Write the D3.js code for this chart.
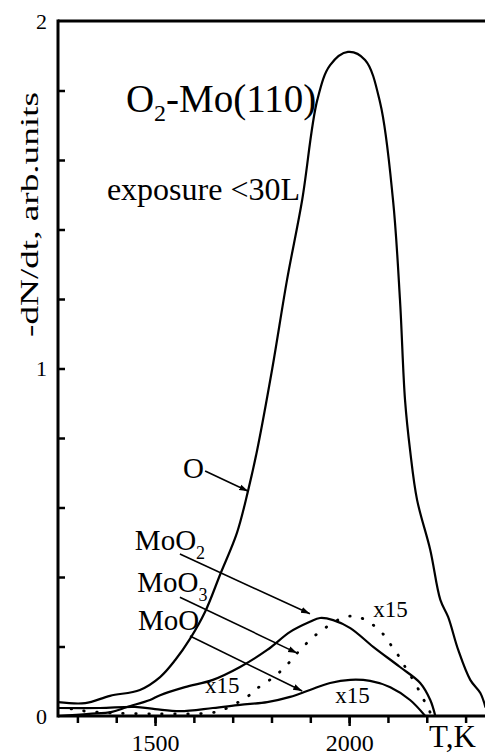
<!DOCTYPE html>
<html>
<head>
<meta charset="utf-8">
<script src="https://cdn.jsdelivr.net/npm/d3@7"></script>
<style>
  html, body { margin: 0; padding: 0; background: #fff; }
  svg { display: block; }
</style>
</head>
<body>
<svg id="chart" width="485" height="756"></svg>
<script>
// Thermal desorption spectra, O2 on Mo(110): temperature (K) vs rate (arb. units)

// O desorption
const oTemp = [1250, 1320, 1384, 1461, 1513, 1552, 1590, 1629, 1668, 1711, 1740, 1763, 1802, 1840, 1879, 1918, 1951, 1997, 2041, 2080, 2113, 2131, 2144, 2157, 2175, 2209, 2235, 2255, 2281, 2312, 2338, 2351];
const oRate = [0.040, 0.037, 0.058, 0.075, 0.112, 0.161, 0.222, 0.300, 0.408, 0.527, 0.650, 0.765, 1.000, 1.255, 1.485, 1.773, 1.873, 1.911, 1.888, 1.764, 1.485, 1.197, 0.909, 0.765, 0.622, 0.478, 0.334, 0.285, 0.190, 0.104, 0.066, 0.026];

// MoO2 desorption (x15)
const moo2Temp = [1250, 1330, 1389, 1428, 1487, 1513, 1577, 1649, 1719, 1789, 1848, 1899, 1925, 1959, 2003, 2062, 2131, 2183, 2209, 2222];
const moo2Rate = [0.000, 0.006, 0.012, 0.026, 0.046, 0.060, 0.083, 0.104, 0.141, 0.190, 0.242, 0.271, 0.282, 0.276, 0.253, 0.199, 0.141, 0.095, 0.046, 0.000];

// MoO3 desorption (x15)
const moo3Temp = [1250, 1289, 1320, 1384, 1513, 1642, 1673, 1737, 1765, 1802, 1835, 1866, 1894, 1930, 1990, 2023, 2054, 2085, 2111, 2131, 2149, 2170, 2188, 2204, 2212];
const moo3Rate = [0.023, 0.020, 0.014, 0.009, 0.006, 0.009, 0.017, 0.055, 0.081, 0.109, 0.141, 0.181, 0.213, 0.247, 0.285, 0.285, 0.268, 0.239, 0.199, 0.167, 0.132, 0.095, 0.055, 0.023, 0.000];

// MoO desorption (x15)
const mooTemp = [1250, 1358, 1448, 1500, 1564, 1649, 1719, 1789, 1848, 1899, 1951, 2003, 2054, 2106, 2157, 2196];
const mooRate = [0.023, 0.023, 0.026, 0.020, 0.014, 0.023, 0.032, 0.040, 0.055, 0.075, 0.095, 0.104, 0.101, 0.083, 0.046, 0.000];

// Axis ticks
const xMinorTicks = [1300, 1400, 1500, 1600, 1700, 1800, 1900, 2000, 2100, 2200, 2300];
const xLabelTicks = [1500, 2000];
const yMinorTicks = [0.2, 0.4, 0.6, 0.8, 1.0, 1.2, 1.4, 1.6, 1.8];
const yLabelTicks = [0, 1, 2];

// Species labels and their arrows (label anchor, arrow tail, arrow head) in data units
const speciesLabels = [
  { name: "O",   sub: "",  at: [1572, 0.685], from: [1629, 0.705], to: [1740, 0.647] },
  { name: "MoO", sub: "2", at: [1448, 0.478], from: [1564, 0.466], to: [1899, 0.294] },
  { name: "MoO", sub: "3", at: [1454, 0.357], from: [1564, 0.342], to: [1866, 0.181] },
  { name: "MoO", sub: "",  at: [1456, 0.247], from: [1590, 0.230], to: [1879, 0.072] }
];
// Scale-factor notes
const scaleNotes = [[2062, 0.285], [1629, 0.066], [1964, 0.037]];

const SERIF = "'Liberation Serif', 'Times New Roman', Times, serif";

const svg = d3.select("#chart");
const W = 485, H = 756;
const margin = { left: 58, top: 21, bottom: 40 };

const x = d3.scaleLinear().domain([1250, 2350]).range([margin.left, W]);
const y = d3.scaleLinear().domain([0, 2]).range([H - margin.bottom, margin.top]);

const defs = svg.append("defs");
defs.append("clipPath").attr("id", "plot")
  .append("rect")
  .attr("x", x(1250)).attr("y", 0)
  .attr("width", W - x(1250)).attr("height", y(0));

defs.append("marker")
  .attr("id", "arrow")
  .attr("markerUnits", "userSpaceOnUse")
  .attr("markerWidth", 10).attr("markerHeight", 8)
  .attr("refX", 9).attr("refY", 4)
  .attr("orient", "auto")
  .append("path")
  .attr("d", "M0,1 L9,4 L0,7 Z")
  .attr("fill", "#000");

// Curves
const line = d3.line()
  .x(d => x(d[0])).y(d => y(d[1]))
  .curve(d3.curveCatmullRom.alpha(0.5));

const curves = svg.append("g").attr("clip-path", "url(#plot)");
const series = [
  { t: oTemp,    v: oRate,    dash: null },
  { t: moo2Temp, v: moo2Rate, dash: null },
  { t: mooTemp,  v: mooRate,  dash: null },
  { t: moo3Temp, v: moo3Rate, dash: "0.5,12.5" }
];
series.forEach(s => {
  curves.append("path")
    .datum(d3.zip(s.t, s.v))
    .attr("d", line)
    .attr("fill", "none")
    .attr("stroke", "#000")
    .attr("stroke-width", s.dash ? 2.8 : 2.2)
    .attr("stroke-linecap", "round")
    .attr("stroke-dasharray", s.dash);
});

// X axis: minor ticks and labelled major ticks
const xAxisG = svg.append("g").attr("transform", `translate(0,${y(0)})`)
  .call(d3.axisBottom(x).tickValues(xMinorTicks).tickSize(7).tickFormat(""));
xAxisG.selectAll(".tick line").attr("stroke-width", 2.5);
const xMajor = svg.append("g").attr("transform", `translate(0,${y(0)})`)
  .call(d3.axisBottom(x).tickValues(xLabelTicks).tickSize(10).tickPadding(8).tickFormat(d3.format("d")));
xMajor.attr("font-family", SERIF);
xMajor.selectAll(".tick line").attr("stroke-width", 2.5);
xMajor.selectAll(".tick text")
  .style("font-family", SERIF).style("font-size", "24px");

// Y axis: inward minor ticks, labels on the left
const yAxisG = svg.append("g").attr("transform", `translate(${x(1250)},0)`)
  .call(d3.axisRight(y).tickValues(yMinorTicks).tickSize(7).tickFormat(""));
yAxisG.selectAll(".tick line").attr("stroke-width", 2.5);
const yLab = svg.append("g").attr("transform", `translate(${x(1250)},0)`)
  .call(d3.axisLeft(y).tickValues(yLabelTicks).tickSize(0).tickPadding(11).tickFormat(d3.format("d")));
yLab.attr("font-family", SERIF);
yLab.selectAll(".tick text")
  .style("font-family", SERIF).style("font-size", "22px");
svg.selectAll(".domain").remove();

// Frame lines: left axis, bottom axis, top border
svg.append("line")
  .attr("x1", x(1250)).attr("x2", x(1250))
  .attr("y1", y(2) - 1.5).attr("y2", y(0) + 1.5)
  .attr("stroke", "#000").attr("stroke-width", 3);
svg.append("line")
  .attr("x1", x(1250)).attr("x2", W)
  .attr("y1", y(0)).attr("y2", y(0))
  .attr("stroke", "#000").attr("stroke-width", 3);
svg.append("line")
  .attr("x1", x(1250)).attr("x2", W)
  .attr("y1", y(2)).attr("y2", y(2))
  .attr("stroke", "#000").attr("stroke-width", 3);

// Shared helper for serif text
function label(sel, px) {
  return sel.append("text")
    .style("font-family", SERIF)
    .style("font-size", px + "px")
    .attr("fill", "#000");
}

// Axis titles
label(svg, 25)
  .attr("transform", `translate(38,${(92 + 337) / 2}) rotate(-90)`)
  .attr("text-anchor", "middle")
  .attr("textLength", 245)
  .attr("lengthAdjust", "spacingAndGlyphs")
  .text("-dN/dt, arb.units");

label(svg, 31)
  .attr("x", 429).attr("y", 747)
  .text("T,K");

// Title and exposure note
const title = label(svg, 39)
  .attr("x", x(1425)).attr("y", y(1.738));
title.append("tspan").text("O");
title.append("tspan").attr("dy", 9).style("font-size", "24px").text("2");
title.append("tspan").attr("dy", -9).text("-Mo(110)");

label(svg, 32)
  .attr("x", x(1376)).attr("y", y(1.485))
  .text("exposure <30L");

// Species labels with arrows
speciesLabels.forEach(s => {
  const t = label(svg, 29)
    .attr("x", x(s.at[0])).attr("y", y(s.at[1]));
  t.append("tspan").text(s.name);
  if (s.sub) {
    t.append("tspan").attr("dy", 9).style("font-size", "18px").text(s.sub);
  }
  svg.append("line")
    .attr("x1", x(s.from[0])).attr("y1", y(s.from[1]))
    .attr("x2", x(s.to[0])).attr("y2", y(s.to[1]))
    .attr("stroke", "#000").attr("stroke-width", 1.6)
    .attr("marker-end", "url(#arrow)");
});

scaleNotes.forEach(p => {
  label(svg, 23)
    .attr("x", x(p[0])).attr("y", y(p[1]))
    .text("x15");
});
</script>
</body>
</html>
